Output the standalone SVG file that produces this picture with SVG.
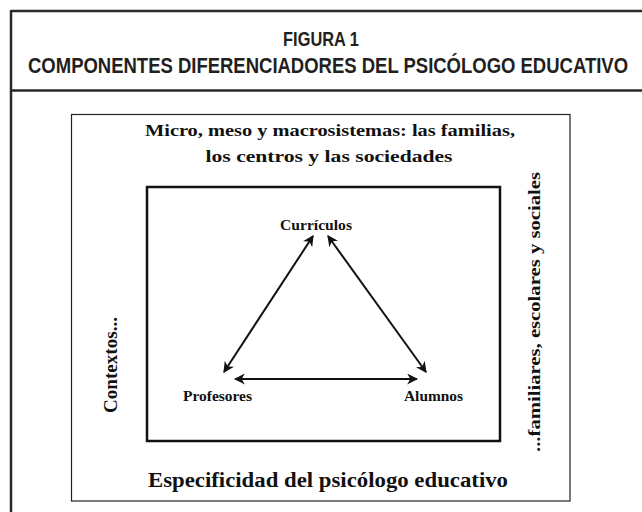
<svg xmlns="http://www.w3.org/2000/svg" width="642" height="512" viewBox="0 0 642 512">
<defs>
<style>
.title{font-family:"Liberation Sans","DejaVu Sans",sans-serif;font-weight:bold;fill:#231f20;}
.serif{font-family:"Liberation Serif","Times New Roman",serif;font-weight:bold;fill:#111;}
.pal{font-family:"Liberation Serif","Times New Roman",serif;font-weight:bold;fill:#111;}
.frame{stroke:#2a2a2a;stroke-width:2.5;fill:none;}
.conn{stroke:#111;stroke-width:2;fill:none;marker-start:url(#ah);marker-end:url(#ah);}
</style>
<marker id="ah" viewBox="0 0 10 10" refX="9" refY="5" markerWidth="5.5" markerHeight="5.5" orient="auto-start-reverse" markerUnits="strokeWidth">
<path d="M0,0 L10,5 L0,10 L3,5 Z" fill="#111"/>
</marker>
</defs>
<rect width="642" height="512" fill="#fff"/>
<g id="frame">
<line class="frame" x1="11" y1="11" x2="642" y2="11"/>
<line class="frame" x1="11" y1="10" x2="11" y2="512"/>
<line class="frame" x1="11" y1="90.5" x2="642" y2="90.5"/>
</g>
<g id="title">
<text class="title" transform="translate(321,46) scale(0.82,1)" font-size="20" text-anchor="middle">FIGURA 1</text>
<text class="title" transform="translate(328,73) scale(0.8,1)" font-size="22" text-anchor="middle" textLength="750" lengthAdjust="spacingAndGlyphs">COMPONENTES DIFERENCIADORES DEL PSICÓLOGO EDUCATIVO</text>
</g>
<g id="outer-box">
<rect x="71.5" y="114.5" width="498.5" height="386.5" fill="none" stroke="#222" stroke-width="1.2"/>
<text class="serif" x="330" y="136" font-size="17.5" text-anchor="middle" textLength="370" lengthAdjust="spacingAndGlyphs">Micro, meso y macrosistemas: las familias,</text>
<text class="serif" x="329" y="162" font-size="17.5" text-anchor="middle" textLength="247" lengthAdjust="spacingAndGlyphs">los centros y las sociedades</text>
<text class="serif" transform="translate(117,365) rotate(-90)" font-size="18" text-anchor="middle" textLength="96" lengthAdjust="spacingAndGlyphs">Contextos...</text>
<text class="serif" transform="translate(540,312) rotate(-90)" font-size="17.5" text-anchor="middle" textLength="280" lengthAdjust="spacingAndGlyphs">...familiares, escolares y sociales</text>
<text class="pal" x="328" y="487" font-size="20" text-anchor="middle" textLength="360" lengthAdjust="spacingAndGlyphs">Especificidad del psicólogo educativo</text>
</g>
<g id="inner-box">
<rect x="147" y="187" width="353" height="254" fill="none" stroke="#111" stroke-width="2.5"/>
</g>
<g id="curriculos">
<text class="serif" x="316" y="230" font-size="14" text-anchor="middle" textLength="72" lengthAdjust="spacingAndGlyphs">Currículos</text>
</g>
<g id="profesores">
<text class="serif" x="217.5" y="401" font-size="14" text-anchor="middle" textLength="69" lengthAdjust="spacingAndGlyphs">Profesores</text>
</g>
<g id="alumnos">
<text class="serif" x="433.5" y="401" font-size="14" text-anchor="middle" textLength="59" lengthAdjust="spacingAndGlyphs">Alumnos</text>
</g>
<g id="connectors">
<line class="conn" x1="313" y1="236" x2="224" y2="372"/>
<line class="conn" x1="328" y1="236" x2="426" y2="372"/>
<line class="conn" x1="235" y1="379" x2="417" y2="379"/>
</g>
</svg>
